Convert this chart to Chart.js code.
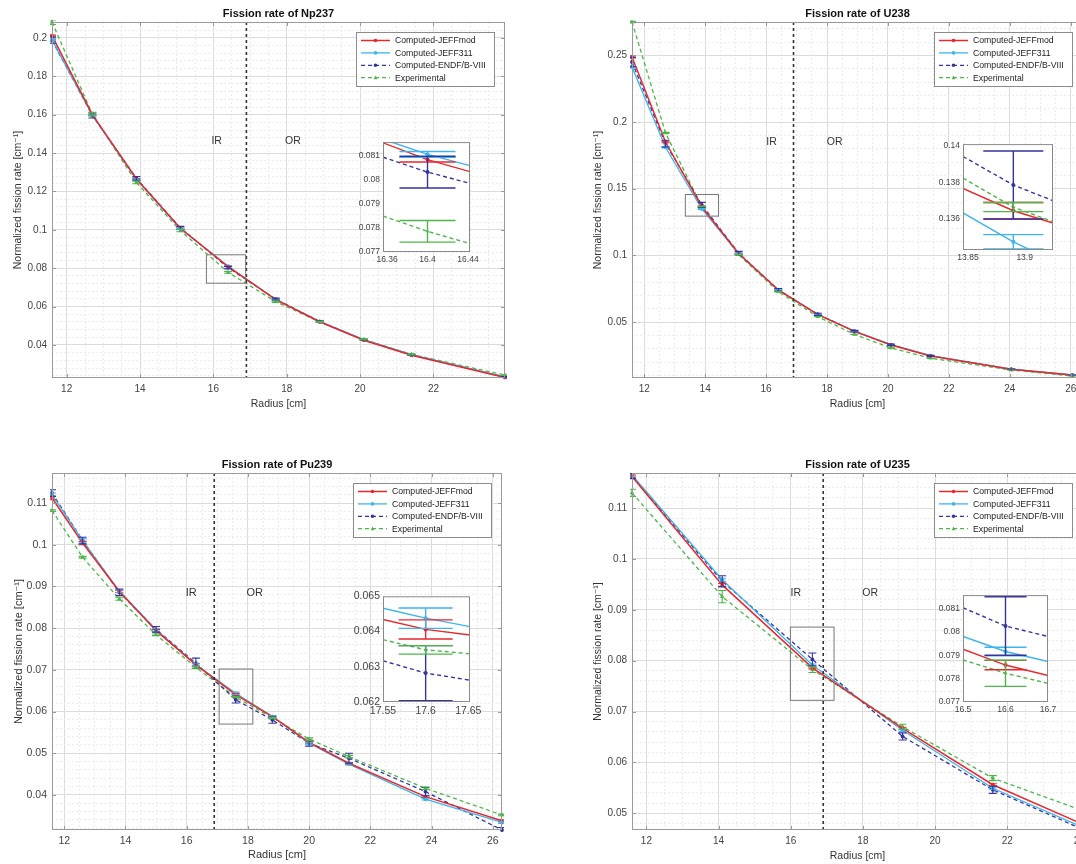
<!DOCTYPE html>
<html>
<head>
<meta charset="utf-8">
<title>Fission rates</title>
<script src="https://cdn.jsdelivr.net/npm/chart.js@4.4.1/dist/chart.umd.min.js"></script>
<style>
  html, body { margin: 0; padding: 0; background: #fff; }
  body { width: 1076px; height: 864px; overflow: hidden; position: relative; }
  canvas { position: absolute; }
</style>
</head>
<body>
<script>
// ---------- data ----------
var seriesLabels = ["Computed-JEFFmod", "Computed-JEFF311", "Computed-ENDF/B-VIII", "Experimental"];
var regionBoundary = 16.9;

// Np237
var npX = [11.6, 12.7, 13.9, 15.1, 16.4, 17.7, 18.9, 20.1, 21.4, 23.95];
var npJeffMod = [0.2012, 0.1600, 0.1266, 0.1008, 0.08085, 0.0636, 0.0521, 0.0425, 0.0347, 0.0231];
var npJeff311 = [0.1990, 0.1597, 0.1263, 0.1006, 0.08107, 0.0637, 0.0522, 0.0427, 0.0349, 0.0234];
var npEndf = [0.1988, 0.1596, 0.1268, 0.1010, 0.08033, 0.0639, 0.0522, 0.0427, 0.0349, 0.0233];
var npExp = [0.2082, 0.1603, 0.1247, 0.0996, 0.07786, 0.0626, 0.0520, 0.0429, 0.0351, 0.0243];
var npJeffModErr = [0.0003, 0.0002, 0.0002, 0.00015, 0.0001, 0.0001, 0.0001, 0.00008, 0.00007, 0.00005];
var npJeff311Err = [0.0003, 0.0002, 0.0002, 0.00015, 0.00012, 0.0001, 0.0001, 0.00008, 0.00007, 0.00005];
var npEndfErr = [0.0016, 0.0013, 0.001, 0.0008, 0.00066, 0.0005, 0.0004, 0.00035, 0.0003, 0.0002];
var npExpErr = [0.0012, 0.0009, 0.0007, 0.0006, 0.00045, 0.0004, 0.0003, 0.0003, 0.00025, 0.0002];
var npXTicks = [12, 14, 16, 18, 20, 22];
var npYTicks = [0.04, 0.06, 0.08, 0.1, 0.12, 0.14, 0.16, 0.18, 0.2];
var npZoomBox = [15.81, 16.88, 0.0722, 0.0870];
var npInsetXTicks = [16.36, 16.4, 16.44];
var npInsetYTicks = [0.077, 0.078, 0.079, 0.08, 0.081];
var npInsetLeft = [0.08155, 0.0817, 0.08095, 0.0785];
var npInsetRight = [0.08035, 0.0806, 0.07986, 0.07735];

// U238
var u8X = [11.6, 12.7, 13.89, 15.1, 16.4, 17.7, 18.9, 20.1, 21.4, 24.05, 26.05];
var u8JeffMod = [0.2488, 0.1850, 0.13645, 0.1014, 0.0740, 0.0555, 0.0430, 0.0328, 0.0245, 0.0145, 0.0102];
var u8Jeff311 = [0.2413, 0.1810, 0.13475, 0.1012, 0.0742, 0.0556, 0.0432, 0.0330, 0.0247, 0.0146, 0.0103];
var u8Endf = [0.2450, 0.1838, 0.13786, 0.1016, 0.0741, 0.0558, 0.0431, 0.0329, 0.0246, 0.0145, 0.0101];
var u8Exp = [0.2750, 0.1918, 0.13665, 0.1005, 0.0727, 0.0540, 0.0407, 0.0305, 0.0228, 0.0140, 0.0095];
var u8JeffModErr = [0.0008, 0.0006, 0.00045, 0.0003, 0.0002, 0.00015, 0.0001, 0.0001, 0.00008, 0.00005, 0.00004];
var u8Jeff311Err = [0.0007, 0.0005, 0.00039, 0.0003, 0.0002, 0.00015, 0.0001, 0.0001, 0.00008, 0.00005, 0.00004];
var u8EndfErr = [0.0035, 0.0025, 0.00186, 0.0014, 0.001, 0.0008, 0.0006, 0.0005, 0.0004, 0.0002, 0.00015];
var u8ExpErr = [0.0005, 0.0004, 0.00025, 0.0002, 0.00015, 0.0001, 0.0001, 0.00008, 0.00006, 0.00004, 0.00003];
var u8XTicks = [12, 14, 16, 18, 20, 22, 24, 26];
var u8YTicks = [0.05, 0.1, 0.15, 0.2, 0.25];
var u8ZoomBox = [13.35, 14.44, 0.1294, 0.1456];
var u8InsetXTicks = [13.85, 13.9];
var u8InsetYTicks = [0.136, 0.138, 0.14];
var u8InsetLeft = [0.13767, 0.13633, 0.13942, 0.13824];
var u8InsetRight = [0.13578, 0.1337, 0.137, 0.13585];

// Pu239
var puX = [11.6, 12.6, 13.8, 15.0, 16.3, 17.6, 18.8, 20.0, 21.3, 23.8, 26.3];
var puJeffMod = [0.1112, 0.1004, 0.0888, 0.0794, 0.0712, 0.06406, 0.0588, 0.0526, 0.0476, 0.0396, 0.0338];
var puJeff311 = [0.1120, 0.1010, 0.0889, 0.0796, 0.0713, 0.06438, 0.0588, 0.0524, 0.0474, 0.0390, 0.0334];
var puEndf = [0.1124, 0.1010, 0.0886, 0.0797, 0.0716, 0.06282, 0.0580, 0.0524, 0.0488, 0.0408, 0.0316];
var puExp = [0.1082, 0.0970, 0.0870, 0.0784, 0.0706, 0.06348, 0.0585, 0.0534, 0.0492, 0.0416, 0.0352];
var puJeffModErr = [0.0004, 0.0004, 0.0003, 0.0003, 0.0003, 0.00027, 0.0002, 0.0002, 0.0002, 0.0002, 0.0002];
var puJeff311Err = [0.0004, 0.0004, 0.0003, 0.0003, 0.0003, 0.00029, 0.0002, 0.0002, 0.0002, 0.0002, 0.0002];
var puEndfErr = [0.0008, 0.0008, 0.0008, 0.0007, 0.0012, 0.00078, 0.0008, 0.0007, 0.0012, 0.001, 0.0006];
var puExpErr = [0.0002, 0.0002, 0.0003, 0.0002, 0.0002, 0.00012, 0.0002, 0.0003, 0.0003, 0.0003, 0.0002];
var puXTicks = [12, 14, 16, 18, 20, 22, 24, 26];
var puYTicks = [0.04, 0.05, 0.06, 0.07, 0.08, 0.09, 0.1, 0.11];
var puZoomBox = [17.06, 18.16, 0.0570, 0.0702];
var puInsetXTicks = [17.55, 17.6, 17.65];
var puInsetYTicks = [0.062, 0.063, 0.064, 0.065];
var puInsetLeft = [0.06434, 0.06466, 0.06317, 0.06377];
var puInsetRight = [0.0639, 0.06414, 0.06262, 0.06337];

// U235
var u5X = [11.6, 14.1, 16.6, 19.1, 21.6, 24.1];
var u5JeffMod = [0.1162, 0.0949, 0.07858, 0.0667, 0.0556, 0.0478];
var u5Jeff311 = [0.1165, 0.0959, 0.07916, 0.0663, 0.0549, 0.0472];
var u5Endf = [0.1163, 0.0956, 0.08025, 0.0651, 0.0546, 0.0468];
var u5Exp = [0.1130, 0.0926, 0.07823, 0.0670, 0.0569, 0.0505];
var u5JeffModErr = [0.0003, 0.0003, 0.0002, 0.0002, 0.0002, 0.0002];
var u5Jeff311Err = [0.0003, 0.0003, 0.00018, 0.0002, 0.0002, 0.0002];
var u5EndfErr = [0.0005, 0.0011, 0.00125, 0.0007, 0.0007, 0.0005];
var u5ExpErr = [0.0007, 0.0012, 0.00056, 0.0005, 0.0005, 0.0004];
var u5XTicks = [12, 14, 16, 18, 20, 22, 24];
var u5YTicks = [0.05, 0.06, 0.07, 0.08, 0.09, 0.1, 0.11];
var u5ZoomBox = [15.99, 17.2, 0.0722, 0.0866];
var u5InsetXTicks = [16.5, 16.6, 16.7];
var u5InsetYTicks = [0.077, 0.078, 0.079, 0.08, 0.081];
var u5InsetLeft = [0.07926, 0.0798, 0.08103, 0.0788];
var u5InsetRight = [0.07813, 0.07873, 0.0798, 0.0778];

// ---------- styles ----------
var FONT = "'Liberation Sans', Arial, 'DejaVu Sans', sans-serif";
var COLORS = ["#e8282b", "#3db4ec", "#34359e", "#4cb648"];
var DASHES = [[], [], [4, 3], [4, 3]];
var WIDTHS = [1.5, 1.3, 1.3, 1.3];
var MARKERS = ["circle", "circle", "circle", "triangle"];

function addCanvas(left, top, w, h) {
  var c = document.createElement("canvas");
  c.width = w;
  c.height = h;
  c.style.left = left + "px";
  c.style.top = top + "px";
  c.style.width = w + "px";
  c.style.height = h + "px";
  document.body.appendChild(c);
  return c.getContext("2d");
}

// major ticks from the arrays, plus unlabeled minor grid positions between them
function gridTicks(majors, sub, lo, hi) {
  var step = (majors[1] - majors[0]) / sub;
  var out = [];
  for (var n = Math.ceil(lo / step - 1e-6); n * step <= hi + step * 1e-6; n++) {
    var v = n * step;
    var m = majors.filter(function (t) { return Math.abs(t - v) < step / 10; })[0];
    out.push(m !== undefined ? { value: m, lab: true } : { value: v, lab: false });
  }
  return out;
}

function drawMarker(ctx, style, x, y, r) {
  ctx.beginPath();
  if (style === "triangle") {
    ctx.moveTo(x, y - r * 1.2);
    ctx.lineTo(x + r, y + r * 0.8);
    ctx.lineTo(x - r, y + r * 0.8);
    ctx.closePath();
  } else {
    ctx.arc(x, y, r, 0, Math.PI * 2);
  }
  ctx.fill();
}

function errorBars(cap, width) {
  return {
    id: "errorBars",
    afterDatasetsDraw: function (chart) {
      var ctx = chart.ctx, a = chart.chartArea;
      var xs = chart.scales.x, ys = chart.scales.y;
      ctx.save();
      ctx.beginPath();
      ctx.rect(a.left - 2, a.top - 2, a.right - a.left + 4, a.bottom - a.top + 4);
      ctx.clip();
      chart.data.datasets.forEach(function (ds) {
        if (!ds.err) return;
        ctx.strokeStyle = ds.borderColor;
        ctx.lineWidth = width;
        ctx.setLineDash([]);
        ds.data.forEach(function (p, j) {
          var e = ds.err[j];
          if (e === null || e === undefined) return;
          var px = xs.getPixelForValue(p.x);
          var y1 = ys.getPixelForValue(p.y + e);
          var y2 = ys.getPixelForValue(p.y - e);
          ctx.beginPath();
          ctx.moveTo(px, y1); ctx.lineTo(px, y2);
          ctx.moveTo(px - cap, y1); ctx.lineTo(px + cap, y1);
          ctx.moveTo(px - cap, y2); ctx.lineTo(px + cap, y2);
          ctx.stroke();
        });
      });
      ctx.restore();
    }
  };
}

function decor(p) {
  return {
    id: "decor",
    afterDatasetsDraw: function (chart) {
      var ctx = chart.ctx, a = chart.chartArea;
      var xs = chart.scales.x, ys = chart.scales.y;
      ctx.save();
      // inner / outer region boundary
      var bx = xs.getPixelForValue(regionBoundary);
      ctx.strokeStyle = "#333";
      ctx.lineWidth = 1.6;
      ctx.setLineDash([3, 3]);
      ctx.beginPath();
      ctx.moveTo(bx, a.top);
      ctx.lineTo(bx, a.bottom);
      ctx.stroke();
      ctx.setLineDash([]);
      // zoomed window marker
      var z = p.zoom;
      var x0 = xs.getPixelForValue(z[0]), x1 = xs.getPixelForValue(z[1]);
      var y0 = ys.getPixelForValue(z[3]), y1 = ys.getPixelForValue(z[2]);
      ctx.strokeStyle = "#777";
      ctx.lineWidth = 1;
      ctx.strokeRect(x0, y0, x1 - x0, y1 - y0);
      // region names
      ctx.fillStyle = "#333";
      ctx.font = (p.fs + 0.5) + "px " + FONT;
      ctx.textAlign = "center";
      ctx.textBaseline = "middle";
      var ty = ys.getPixelForValue(p.zones[2]);
      ctx.fillText("IR", xs.getPixelForValue(p.zones[0]), ty);
      ctx.fillText("OR", xs.getPixelForValue(p.zones[1]), ty);
      ctx.restore();
    },
    afterDraw: function (chart) {
      var ctx = chart.ctx, a = chart.chartArea;
      var xs = chart.scales.x, ys = chart.scales.y;
      ctx.save();
      // axes box with inward major tick marks
      ctx.strokeStyle = "#9a9a9a";
      ctx.lineWidth = 1;
      ctx.strokeRect(a.left + 0.5, a.top + 0.5, a.right - a.left - 1, a.bottom - a.top - 1);
      ctx.beginPath();
      p.xt.forEach(function (v) {
        var px = Math.round(xs.getPixelForValue(v)) + 0.5;
        ctx.moveTo(px, a.bottom); ctx.lineTo(px, a.bottom - 4);
        ctx.moveTo(px, a.top); ctx.lineTo(px, a.top + 4);
      });
      p.yt.forEach(function (v) {
        var py = Math.round(ys.getPixelForValue(v)) + 0.5;
        ctx.moveTo(a.left, py); ctx.lineTo(a.left + 4, py);
        ctx.moveTo(a.right, py); ctx.lineTo(a.right - 4, py);
      });
      ctx.stroke();
      // title
      ctx.fillStyle = "#111";
      ctx.font = "bold 11px " + FONT;
      ctx.textAlign = "center";
      ctx.textBaseline = "middle";
      ctx.fillText(p.title, (a.left + a.right) / 2, a.top - 8);
      // legend
      var lw = 138, lh = 54;
      var lx = a.right - 11 - lw, ly = a.top + 10;
      ctx.fillStyle = "#fff";
      ctx.fillRect(lx, ly, lw, lh);
      ctx.strokeStyle = "#8c8c8c";
      ctx.strokeRect(lx + 0.5, ly + 0.5, lw, lh);
      chart.data.datasets.forEach(function (ds, k) {
        var cy = ly + 8.5 + k * 12.4;
        ctx.strokeStyle = ds.borderColor;
        ctx.lineWidth = ds.borderWidth;
        ctx.setLineDash(ds.borderDash);
        ctx.beginPath();
        ctx.moveTo(lx + 5, cy);
        ctx.lineTo(lx + 34, cy);
        ctx.stroke();
        ctx.setLineDash([]);
        ctx.fillStyle = ds.borderColor;
        drawMarker(ctx, ds.pointStyle, lx + 19.5, cy, 1.8);
        ctx.fillStyle = "#222";
        ctx.font = "8.7px " + FONT;
        ctx.textAlign = "left";
        ctx.fillText(ds.label, lx + 39, cy + 0.5);
      });
      ctx.restore();
    }
  };
}

function makePanel(p) {
  var L = p.area[0], T = p.area[1], R = p.area[2], B = p.area[3];
  var ctx = addCanvas(L - 50, T - 22, R - L + 65, B - T + 54);
  var tickFont = { family: FONT, size: p.fs };
  var titleFont = { family: FONT, size: p.fs + 0.5 };
  var majorColor = "#dcdcdc", minorColor = "#ececec";
  var datasets = p.series.map(function (ys, k) {
    return {
      label: seriesLabels[k],
      data: p.x.map(function (x, i) { return { x: x, y: ys[i] }; }),
      err: p.errs[k],
      borderColor: COLORS[k],
      backgroundColor: COLORS[k],
      borderWidth: WIDTHS[k],
      borderDash: DASHES[k],
      pointStyle: MARKERS[k],
      pointRadius: k === 3 ? 2.6 : 1.9,
      pointBorderWidth: 0,
      tension: 0,
      clip: 3
    };
  });
  function gridColor(c) { return c.tick && c.tick.lab ? majorColor : minorColor; }
  function gridDash(c) { return c.tick && !c.tick.lab ? [2, 2] : []; }
  function tickLabel(v, i, ticks) { return ticks[i].lab ? String(v) : ""; }
  new Chart(ctx, {
    type: "line",
    data: { datasets: datasets },
    options: {
      responsive: false,
      animation: false,
      events: [],
      layout: { padding: { left: 0, top: 22, right: 15, bottom: 0 } },
      plugins: { legend: { display: false }, tooltip: { enabled: false } },
      scales: {
        x: {
          type: "linear",
          min: p.xr[0],
          max: p.xr[1],
          afterBuildTicks: function (s) { s.ticks = gridTicks(p.xt, 4, p.xr[0], p.xr[1]); },
          afterFit: function (s) { s.height = 32; },
          ticks: { autoSkip: false, maxRotation: 0, padding: 5, color: "#444", font: tickFont, callback: tickLabel },
          grid: { color: gridColor, drawTicks: false, lineWidth: 1 },
          border: { display: false, dash: gridDash },
          title: { display: true, text: "Radius [cm]", color: "#333", font: titleFont, padding: { top: 0, bottom: 0 } }
        },
        y: {
          type: "linear",
          min: p.yr[0],
          max: p.yr[1],
          afterBuildTicks: function (s) { s.ticks = gridTicks(p.yt, 5, p.yr[0], p.yr[1]); },
          afterFit: function (s) { s.width = 50; },
          ticks: { autoSkip: false, padding: 5, color: "#444", font: tickFont, callback: tickLabel },
          grid: { color: gridColor, drawTicks: false, lineWidth: 1 },
          border: { display: false, dash: gridDash },
          title: { display: true, text: "Normalized fission rate [cm\u207B\u00B9]", color: "#333", font: titleFont, padding: { top: 10, bottom: 0 } }
        }
      }
    },
    plugins: [errorBars(4, 1.1), decor(p)]
  });
}

function makeInset(q) {
  var b = q.box;
  var ctx = addCanvas(b[0] - 40, b[1] - 8, b[2] - b[0] + 58, b[3] - b[1] + 26);
  var font = { family: FONT, size: q.fs };
  var datasets = q.series.map(function (ys, k) {
    return {
      label: seriesLabels[k],
      data: [
        { x: q.xr[0], y: q.left[k] },
        { x: q.x[q.idx], y: ys[q.idx] },
        { x: q.xr[1], y: q.right[k] }
      ],
      err: [null, q.errs[k][q.idx], null],
      borderColor: COLORS[k],
      backgroundColor: COLORS[k],
      borderWidth: 1.4,
      borderDash: DASHES[k],
      pointStyle: MARKERS[k],
      pointRadius: [0, 2, 0],
      pointBorderWidth: 0,
      tension: 0,
      clip: 0
    };
  });
  new Chart(ctx, {
    type: "line",
    data: { datasets: datasets },
    options: {
      responsive: false,
      animation: false,
      events: [],
      layout: { padding: { left: 0, top: 8, right: 18, bottom: 0 } },
      plugins: { legend: { display: false }, tooltip: { enabled: false } },
      scales: {
        x: {
          type: "linear",
          min: q.xr[0],
          max: q.xr[1],
          afterBuildTicks: function (s) { s.ticks = q.xt.map(function (v) { return { value: v }; }); },
          afterFit: function (s) { s.height = 18; },
          ticks: { autoSkip: false, maxRotation: 0, padding: 3, color: "#444", font: font,
                   callback: function (v) { return String(v); } },
          grid: { display: false, drawTicks: false },
          border: { display: false }
        },
        y: {
          type: "linear",
          min: q.yr[0],
          max: q.yr[1],
          afterBuildTicks: function (s) { s.ticks = q.yt.map(function (v) { return { value: v }; }); },
          afterFit: function (s) { s.width = 40; },
          ticks: { autoSkip: false, padding: 3, color: "#444", font: font,
                   callback: function (v) { return String(v); } },
          grid: { display: false, drawTicks: false },
          border: { display: false }
        }
      }
    },
    plugins: [{
      id: "insetBox",
      beforeDatasetsDraw: function (chart) {
        var a = chart.chartArea;
        chart.ctx.save();
        chart.ctx.fillStyle = "#fff";
        chart.ctx.fillRect(a.left, a.top, a.right - a.left, a.bottom - a.top);
        chart.ctx.restore();
      },
      afterDraw: function (chart) {
        var a = chart.chartArea, c = chart.ctx;
        c.save();
        c.strokeStyle = "#8a8a8a";
        c.lineWidth = 1;
        c.strokeRect(a.left + 0.5, a.top + 0.5, a.right - a.left - 1, a.bottom - a.top - 1);
        c.restore();
      }
    }, errorBars(q.cap, 1.4)]
  });
}

// ---------- panels ----------
var np = {
  title: "Fission rate of Np237", area: [52, 22, 505, 378], fs: 10,
  x: npX, series: [npJeffMod, npJeff311, npEndf, npExp],
  errs: [npJeffModErr, npJeff311Err, npEndfErr, npExpErr],
  xr: [11.6, 23.95], yr: [0.0228, 0.2083], xt: npXTicks, yt: npYTicks,
  zoom: npZoomBox, zones: [16.09, 18.17, 0.146]
};
var u8 = {
  title: "Fission rate of U238", area: [632, 22, 1083, 378], fs: 10,
  x: u8X, series: [u8JeffMod, u8Jeff311, u8Endf, u8Exp],
  errs: [u8JeffModErr, u8Jeff311Err, u8EndfErr, u8ExpErr],
  xr: [11.6, 26.4], yr: [0.008, 0.275], xt: u8XTicks, yt: u8YTicks,
  zoom: u8ZoomBox, zones: [16.18, 18.25, 0.185]
};
var pu = {
  title: "Fission rate of Pu239", area: [52, 473, 502, 830], fs: 10.5,
  x: puX, series: [puJeffMod, puJeff311, puEndf, puExp],
  errs: [puJeffModErr, puJeff311Err, puEndfErr, puExpErr],
  xr: [11.6, 26.3], yr: [0.0316, 0.1172], xt: puXTicks, yt: puYTicks,
  zoom: puZoomBox, zones: [16.15, 18.22, 0.0884]
};
var u5 = {
  title: "Fission rate of U235", area: [632, 473, 1083, 830], fs: 10,
  x: u5X, series: [u5JeffMod, u5Jeff311, u5Endf, u5Exp],
  errs: [u5JeffModErr, u5Jeff311Err, u5EndfErr, u5ExpErr],
  xr: [11.6, 24.1], yr: [0.0467, 0.1169], xt: u5XTicks, yt: u5YTicks,
  zoom: u5ZoomBox, zones: [16.14, 18.2, 0.0933]
};
[np, u8, pu, u5].forEach(makePanel);

makeInset({ box: [383, 142, 470, 252], fs: 8.5, cap: 28, idx: 4, x: npX, series: np.series, errs: np.errs,
  xr: [16.356, 16.442], yr: [0.077, 0.08158], xt: npInsetXTicks, yt: npInsetYTicks,
  left: npInsetLeft, right: npInsetRight });
makeInset({ box: [963, 144, 1053, 250], fs: 8.5, cap: 30, idx: 2, x: u8X, series: u8.series, errs: u8.errs,
  xr: [13.8456, 13.925], yr: [0.1343, 0.1401], xt: u8InsetXTicks, yt: u8InsetYTicks,
  left: u8InsetLeft, right: u8InsetRight });
makeInset({ box: [383, 595, 470, 702], fs: 10.5, cap: 27, idx: 5, x: puX, series: pu.series, errs: pu.errs,
  xr: [17.55, 17.652], yr: [0.062, 0.065], xt: puInsetXTicks, yt: puInsetYTicks,
  left: puInsetLeft, right: puInsetRight });
makeInset({ box: [963, 595, 1048, 702], fs: 8.5, cap: 21, idx: 2, x: u5X, series: u5.series, errs: u5.errs,
  xr: [16.5, 16.7], yr: [0.077, 0.08157], xt: u5InsetXTicks, yt: u5InsetYTicks,
  left: u5InsetLeft, right: u5InsetRight });
</script>
</body>
</html>
